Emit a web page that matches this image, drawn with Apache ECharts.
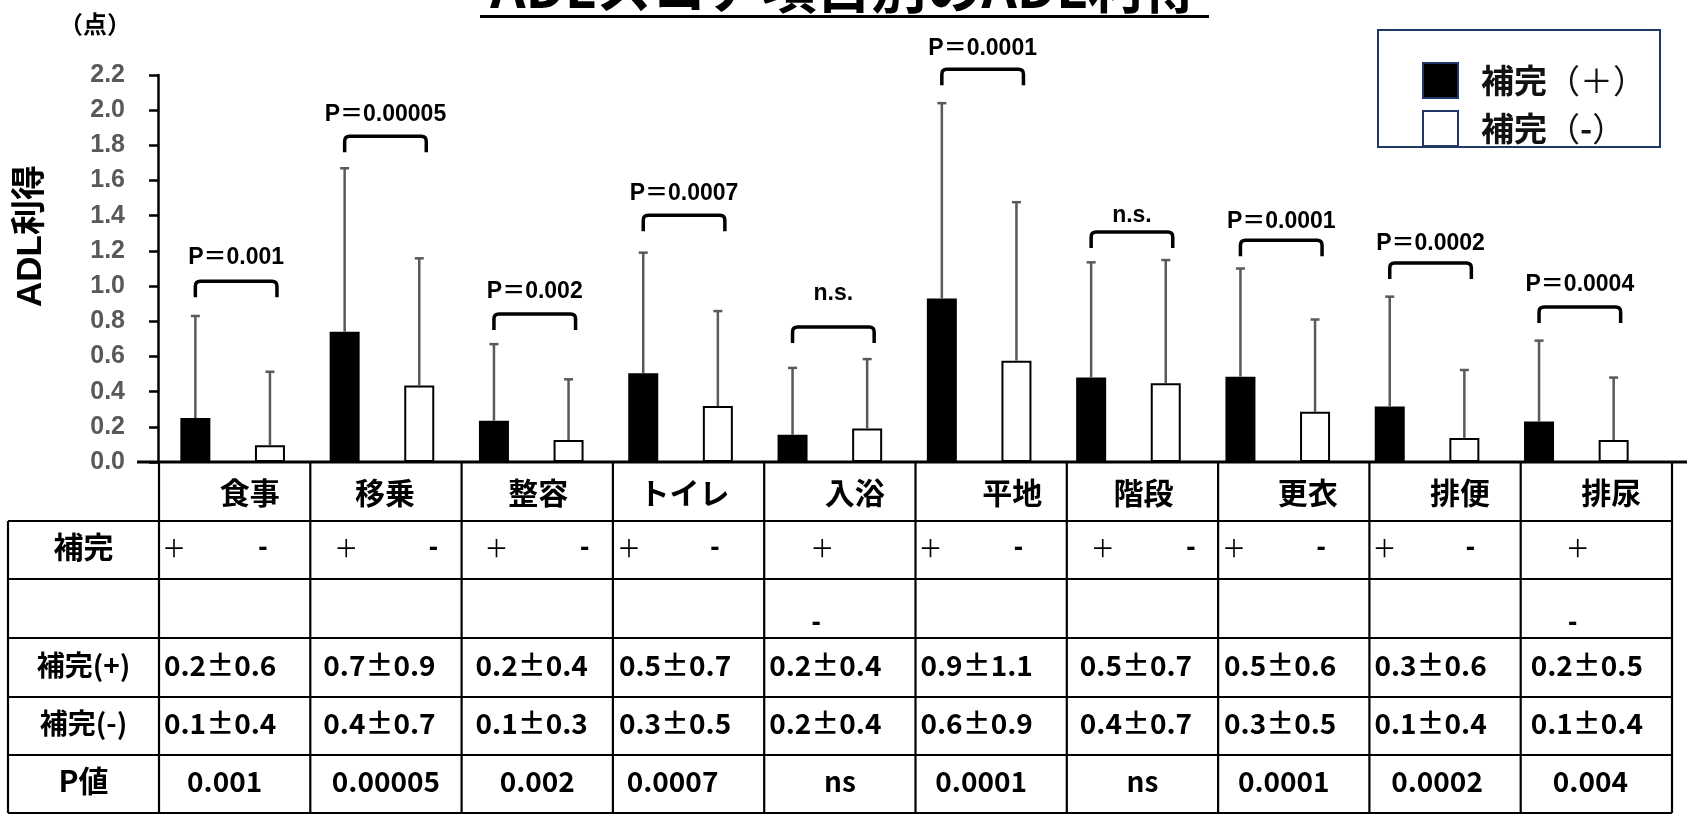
<!DOCTYPE html>
<html><head><meta charset="utf-8">
<script src="https://cdn.jsdelivr.net/npm/echarts@6/dist/echarts.min.js"></script>
<style>html,body{margin:0;padding:0;background:#fff}#c{width:1690px;height:815px}</style>
</head><body><div id="c"></div>
<script>
// ---------------- data ----------------
const categories = ['食事','移乗','整容','トイレ','入浴','平地','階段','更衣','排便','排尿'];
const seriesNames = ['補完（＋）','補完（-）'];
const meanPlus  = [0.25, 0.74, 0.235, 0.505, 0.155, 0.93, 0.48, 0.485, 0.315, 0.23];
const sdPlus    = [0.58, 0.93, 0.435, 0.685, 0.38, 1.11, 0.655, 0.615, 0.625, 0.46];
const meanMinus = [0.095, 0.435, 0.125, 0.318, 0.19, 0.576, 0.448, 0.285, 0.137, 0.125];
const sdMinus   = [0.418, 0.723, 0.345, 0.54, 0.395, 0.901, 0.70, 0.525, 0.386, 0.355];
const pLabels = ['P＝0.001','P＝0.00005','P＝0.002','P＝0.0007','n.s.','P＝0.0001','n.s.','P＝0.0001','P＝0.0002','P＝0.0004'];
const bracketLevel = [1.028, 1.852, 0.841, 1.403, 0.767, 2.233, 1.307, 1.261, 1.131, 0.881];
const labelLevel   = [1.159, 1.972, 0.966, 1.523, 0.955, 2.352, 1.403, 1.369, 1.244, 1.006];
const yMin = 0, yMax = 2.2, yStep = 0.2;
// table texts
const rowLabels = ['補完', '補完(+)', '補完(-)', 'P値'];
const groupSigns = ['＋', '-'];
const plusRowText  = ['0.2±0.6','0.7±0.9','0.2±0.4','0.5±0.7','0.2±0.4','0.9±1.1','0.5±0.7','0.5±0.6','0.3±0.6','0.2±0.5'];
const minusRowText = ['0.1±0.4','0.4±0.7','0.1±0.3','0.3±0.5','0.2±0.4','0.6±0.9','0.4±0.7','0.3±0.5','0.1±0.4','0.1±0.4'];
const pValueText   = ['0.001','0.00005','0.002','0.0007','ns','0.0001','ns','0.0001','0.0002','0.004'];
const titleText = 'ADLスコア項目別のADL利得';
const unitText = '（点）';
const yAxisTitle = 'ADL利得';

// ---------------- layout (not data) ----------------
const GRID_L = 158, GRID_W = 1493, GRID_T = 75, GRID_H = 387;
const BAR_W = 30, BAR_GAP = 1.487;
const HALF_SEP = BAR_W * (1 + BAR_GAP) / 2;
const TBL_L = 8, COL0 = 159, COLW = 151.3, NCOL = 10;
const ROWS = [463, 521, 579, 638, 697, 755, 813];
const headerOffset = [15, -1, 1, -4, 15, 21, 1, 14, 15, 15];
const plusOffset  = [15, 36, 35, 16, 58, 15, 36, 16, 15, 57];
const minusOffset = [104, 123, 123, 102, 52, 103, 124, 103, 101, 52];
const minusWrapped = [0,0,0,0,1,0,0,0,0,1];
const numOffset = [5, 13, 14, 6, 5, 5, 13, 6, 5, 10];
const pOffset = [-10, 0, 0, -16, 0, -10, 0, -10, -8, -6];
const JP = "'Noto Sans CJK JP', 'Noto Sans CJK SC', sans-serif";
const LAT = "'Liberation Sans', Arial, 'Noto Sans CJK JP', sans-serif";

const chart = echarts.init(document.getElementById('c'), null, {renderer:'canvas'});

function errRender(sign){
  return function(params, api){
    const k = api.value(0), m = api.value(1), s = api.value(2);
    const p0 = api.coord([k, m]), p1 = api.coord([k, m + s]);
    const x = p0[0] + sign * HALF_SEP;
    const st = {stroke:'#595959', lineWidth:2.5};
    return {type:'group', children:[
      {type:'line', shape:{x1:x, y1:p0[1], x2:x, y2:p1[1]}, style:st},
      {type:'line', shape:{x1:x-4.5, y1:p1[1], x2:x+4.5, y2:p1[1]}, style:st}
    ]};
  };
}
function bracketRender(params, api){
  const k = api.value(0), lv = api.value(1), ll = api.value(2);
  const c = api.coord([k, lv]), t = api.coord([k, ll]);
  const xl = c[0] - HALF_SEP, xr = c[0] + HALF_SEP + 7, y = c[1], ye = y + 16, r = 5;
  const d = `M${xl} ${ye} L${xl} ${y+r} Q${xl} ${y} ${xl+r} ${y} L${xr-r} ${y} Q${xr} ${y} ${xr} ${y+r} L${xr} ${ye}`;
  return {type:'group', children:[
    {type:'path', shape:{pathData:d}, style:{stroke:'#000', fill:null, lineWidth:3.5, lineCap:'butt', lineJoin:'round'}},
    {type:'text', x:(xl+xr)/2, y:t[1], style:{text:pLabels[params.dataIndex], fill:'#000',
      font:"bold 23px " + LAT, textAlign:'center', textVerticalAlign:'middle'}}
  ]};
}

// graphic elements
const g = [];
g.push({type:'text', x:844, y:15, style:{text:titleText, font:"bold 55px " + JP, fill:'#000', textAlign:'center', textVerticalAlign:'bottom'}});
g.push({type:'line', shape:{x1:480, y1:16.5, x2:1209, y2:16.5}, style:{stroke:'#000', lineWidth:3}});
g.push({type:'text', x:95, y:24, style:{text:unitText, font:"bold 24px " + JP, fill:'#000', textAlign:'center', textVerticalAlign:'middle'}});
g.push({type:'text', x:31, y:236, rotation:Math.PI/2, style:{text:yAxisTitle, font:"bold 35px " + LAT, fill:'#000', textAlign:'center', textVerticalAlign:'middle'}});
const yBase = GRID_T + GRID_H;
g.push({type:'line', shape:{x1:137, y1:yBase, x2:1687, y2:yBase}, style:{stroke:'#000', lineWidth:3}, z:10});
const TW = 2.2;
for (let i = 1; i < ROWS.length; i++) {
  g.push({type:'line', shape:{x1:TBL_L, y1:ROWS[i], x2:COL0 + NCOL*COLW, y2:ROWS[i]}, style:{stroke:'#000', lineWidth:TW}});
}
g.push({type:'line', shape:{x1:TBL_L, y1:ROWS[1], x2:TBL_L, y2:ROWS[6]}, style:{stroke:'#000', lineWidth:TW}});
for (let k = 0; k <= NCOL; k++) {
  const x = COL0 + k*COLW;
  g.push({type:'line', shape:{x1:x, y1:ROWS[0], x2:x, y2:ROWS[6]}, style:{stroke:'#000', lineWidth:TW}});
}
function txt(x, y, s, font, align){
  g.push({type:'text', x:x, y:y, style:{text:s, font:font, fill:'#000', textAlign:align||'center', textVerticalAlign:'middle'}});
}
const F = "bold 28px " + JP;
const labelX = (TBL_L + COL0)/2;
txt(labelX, 547, rowLabels[0], "bold 30px " + JP);
txt(labelX, 665, rowLabels[1], F);
txt(labelX, 723, rowLabels[2], F);
txt(labelX, 781, rowLabels[3], "bold 30px " + JP);
for (let k = 0; k < NCOL; k++) {
  const x0 = COL0 + k*COLW, xc = x0 + COLW/2;
  txt(xc + headerOffset[k], 493, categories[k], "bold 30px " + JP);
  txt(x0 + plusOffset[k], 548, groupSigns[0], "normal 24px " + JP);
  txt(x0 + minusOffset[k], minusWrapped[k] ? 623 : 548, groupSigns[1], "bold 28px " + LAT);
  txt(x0 + numOffset[k], 665, plusRowText[k], F, 'left');
  txt(x0 + numOffset[k], 723, minusRowText[k], F, 'left');
  txt(xc + pOffset[k], 781, pValueText[k], F);
}

const option = {
  animation: false,
  backgroundColor: '#fff',
  grid: {left: GRID_L, top: GRID_T, width: GRID_W, height: GRID_H, containLabel: false},
  legend: {
    orient: 'vertical', left: 1378, top: 30,
    padding: [32, 14, 0, 44], itemGap: 11, itemWidth: 35, itemHeight: 35,
    borderColor: '#1F3864', borderWidth: 2, icon: 'rect',
    itemStyle: {borderColor: '#1F3864', borderWidth: 2},
    formatter: function(name){
      const i = name.indexOf('（');
      const head = name.slice(0, i), sign = name.slice(i+1, name.length-1);
      return '{a|' + head + '}{b|（}' + (sign === '-' ? '{c|-}' : '{b|' + sign + '}') + '{b|）}';
    },
    textStyle: {color: '#111', padding: [0,0,0,18],
      rich: {
        a: {fontSize: 33, fontWeight: 'bold', fontFamily: JP, color: '#111', lineHeight: 35},
        b: {fontSize: 33, fontWeight: 'normal', fontFamily: JP, color: '#111', lineHeight: 35},
        c: {fontSize: 33, fontWeight: 'bold', fontFamily: JP, color: '#111', lineHeight: 35}
      }},
    data: seriesNames, selectedMode: false
  },
  xAxis: {type: 'category', data: categories, axisLine: {show: false}, axisTick: {show: false}, axisLabel: {show: false}},
  yAxis: {
    type: 'value', min: yMin, max: yMax, interval: yStep,
    axisLine: {show: true, lineStyle: {color: '#000', width: 2.5}},
    axisTick: {show: true, length: 9, lineStyle: {color: '#000', width: 2.5}},
    splitLine: {show: false},
    axisLabel: {margin: 33, color: '#595959', fontSize: 25, fontWeight: 'bold', fontFamily: LAT,
      formatter: v => v.toFixed(1)}
  },
  series: [
    {name: seriesNames[0], type: 'bar', data: meanPlus, barWidth: BAR_W, barGap: (BAR_GAP*100) + '%',
      itemStyle: {color: '#000', borderColor: '#000', borderWidth: 2}},
    {name: seriesNames[1], type: 'bar', data: meanMinus, barWidth: BAR_W,
      itemStyle: {color: '#fff', borderColor: '#000', borderWidth: 2}},
    {type: 'custom', renderItem: errRender(-1), data: meanPlus.map((m, i) => [i, m, sdPlus[i]]), z: 3, silent: true},
    {type: 'custom', renderItem: errRender(1), data: meanMinus.map((m, i) => [i, m, sdMinus[i]]), z: 3, silent: true},
    {type: 'custom', renderItem: bracketRender, clip: false, data: bracketLevel.map((b, i) => [i, b, labelLevel[i]]), z: 4, silent: true}
  ],
  graphic: {elements: g}
};
chart.setOption(option);
</script></body></html>
